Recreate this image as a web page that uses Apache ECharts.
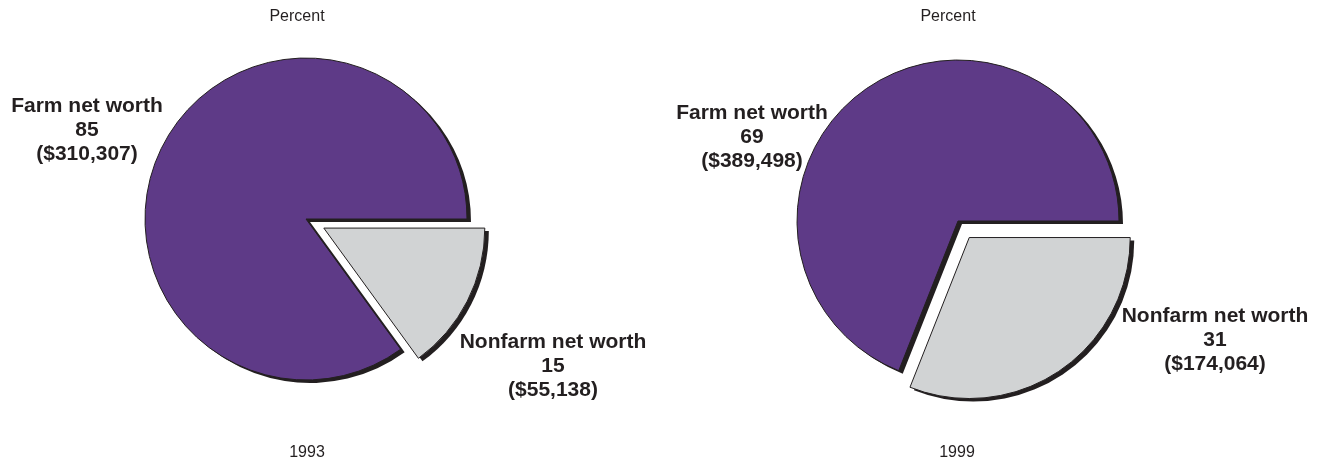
<!DOCTYPE html>
<html>
<head>
<meta charset="utf-8">
<script src="https://cdn.jsdelivr.net/npm/echarts@6/dist/echarts.min.js"></script>
<style>
html,body{margin:0;padding:0;background:#fff;}
#chart{width:1327px;height:468px;}
</style>
</head>
<body>
<div id="chart"></div>
<script>
const categories = ['Farm net worth', 'Nonfarm net worth'];
const years = ['1993', '1999'];
const pct1993 = [85, 15];
const pct1999 = [69, 31];
const dollars1993 = ['$310,307', '$55,138'];
const dollars1999 = ['$389,498', '$174,064'];
const unitLabel = 'Percent';

const PURPLE = '#5e3a87';
const GRAY = '#d1d3d4';
const INK = '#231f20';
const FONT = 'Liberation Sans, Arial, sans-serif';

// label anchor positions [farm, nonfarm] per pie
const labelPos = [
  [[87, 130], [553, 366]],
  [[752, 137], [1215, 340]]
];
const pieCenters = [[306, 219], [958, 221]];
const RADIUS = 161;
const SHADOW_DX = 4, SHADOW_DY = 3;

function makeData(pct, dollars, shadow) {
  // order: nonfarm first (starts at 3 o'clock, clockwise), then farm
  return [
    { name: categories[1], value: pct[1], selected: true,
      itemStyle: { color: shadow ? INK : GRAY } },
    { name: categories[0], value: pct[0],
      itemStyle: { color: shadow ? INK : PURPLE } }
  ];
}

function pieSeries(idx, pct, dollars, shadow) {
  const c = pieCenters[idx];
  return {
    type: 'pie',
    z: shadow ? 1 : 3,
    center: shadow ? [c[0] + SHADOW_DX, c[1] + SHADOW_DY] : c,
    radius: RADIUS,
    startAngle: 0,
    clockwise: true,
    selectedMode: 'single',
    selectedOffset: 20,
    animation: false,
    silent: true,
    emphasis: { disabled: true },
    itemStyle: shadow ? { borderWidth: 0 } : { borderColor: INK, borderWidth: 1 },
    label: { show: false },
    labelLine: { show: false },
    data: makeData(pct, dollars, shadow)
  };
}

function labelText(pct, dollars, i) {
  return categories[i] + '\n' + pct[i] + '\n(' + dollars[i] + ')';
}

const chart = echarts.init(document.getElementById('chart'), null, { renderer: 'canvas' });

const textStyleBase = {
  fontFamily: FONT,
  fontSize: 16,
  fill: INK,
  align: 'center',
  verticalAlign: 'middle'
};
const labelStyleBase = {
  fontFamily: FONT,
  fontSize: 21,
  fontWeight: 'bold',
  lineHeight: 24,
  fill: INK,
  align: 'center',
  verticalAlign: 'middle'
};

const allPct = [pct1993, pct1999];
const allDollars = [dollars1993, dollars1999];
const graphics = [
  { type: 'text', x: 297, y: 17, style: Object.assign({ text: unitLabel }, textStyleBase) },
  { type: 'text', x: 948, y: 17, style: Object.assign({ text: unitLabel }, textStyleBase) },
  { type: 'text', x: 307, y: 453, style: Object.assign({ text: years[0] }, textStyleBase) },
  { type: 'text', x: 957, y: 453, style: Object.assign({ text: years[1] }, textStyleBase) }
];
for (let p = 0; p < 2; p++) {
  for (let i = 0; i < 2; i++) {
    graphics.push({
      type: 'text',
      x: labelPos[p][i][0],
      y: labelPos[p][i][1],
      style: Object.assign({ text: labelText(allPct[p], allDollars[p], i) }, labelStyleBase)
    });
  }
}

chart.setOption({
  backgroundColor: '#ffffff',
  animation: false,
  graphic: graphics,
  series: [
    pieSeries(0, pct1993, dollars1993, true),
    pieSeries(0, pct1993, dollars1993, false),
    pieSeries(1, pct1999, dollars1999, true),
    pieSeries(1, pct1999, dollars1999, false)
  ]
});
</script>
</body>
</html>
